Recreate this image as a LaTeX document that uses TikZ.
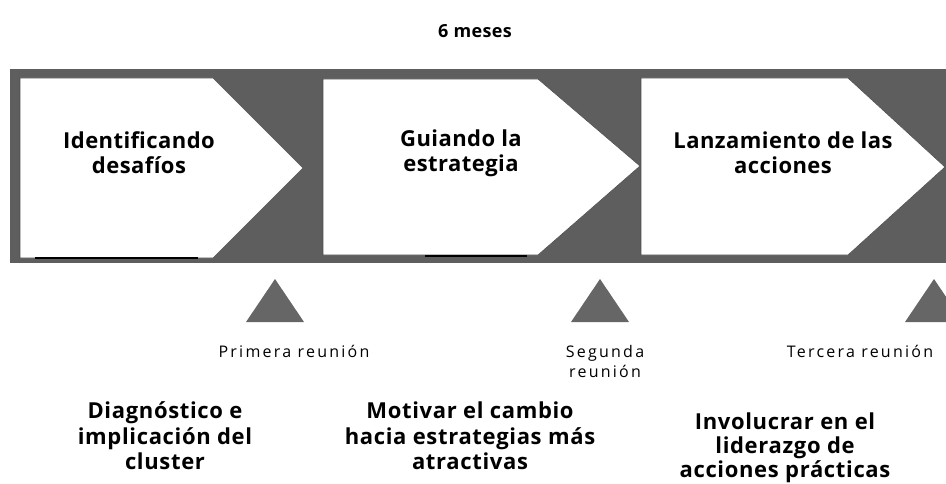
\documentclass[tikz,border=0pt]{standalone}
\usepackage{fontspec}
\setmainfont{Open Sans}
\begin{document}
\begin{tikzpicture}[x=1pt,y=-1pt,
  band/.style={fill=bandgray,draw=none},
  chev/.style={fill=white,draw=black!70,line width=0.6pt},
  phase/.style={font=\bfseries\fontsize{22}{25}\selectfont\addfontfeatures{LetterSpace=2},align=center,text=black},
  meet/.style={fill=trigray,draw=none},
  mlabel/.style={font=\fontsize{16}{20}\selectfont\addfontfeatures{LetterSpace=14},align=center},
  goal/.style={font=\bfseries\fontsize{22}{25.5}\selectfont\addfontfeatures{LetterSpace=3},align=center}]
\definecolor{bandgray}{HTML}{5E5E5E}
\definecolor{trigray}{HTML}{666666}
\useasboundingbox (0,0) rectangle (946,484);
\node[font=\bfseries\fontsize{18}{20}\selectfont\addfontfeatures{LetterSpace=2}] (title) at (475,31) {6 meses};
\fill[band] (10,69) rectangle (946,263);
% chevrons
\draw[chev] (20,78) -- (213,78) -- (303,168) -- (213,258) -- (20,258) -- cycle;
\draw[chev] (323,79) -- (538,79) -- (640,166) -- (538,255) -- (323,255) -- cycle;
\draw[chev] (641,78) -- (848,78) -- (945,167) -- (848,255) -- (641,255) -- cycle;
\draw[line width=2.5pt] (35,258) -- (198,258);
\draw[line width=2.5pt] (425,256) -- (527,256);
\node[phase] (p1) at (139,153) {Identificando\\desafíos};
\node[phase] (p2) at (461,153) {Guiando la\\estrategia};
\node[phase] (p3) at (783,153) {Lanzamiento de las\\acciones};
% meeting triangles
\fill[meet] (246,322) -- (275,279) -- (304,322) -- cycle;
\fill[meet] (571,322) -- (600,279) -- (629,322) -- cycle;
\fill[meet] (905,322) -- (934,279) -- (963,322) -- cycle;
\node[mlabel] (m1) at (294,351) {Primera reunión};
\node[mlabel] (m2) at (605,361) {Segunda\\reunión};
\node[mlabel] (m3) at (860,351) {Tercera reunión};
% goals
\node[goal] (g1) at (165,436) {Diagnóstico e\\implicación del\\cluster};
\node[goal] (g2) at (470,436) {Motivar el cambio\\hacia estrategias más\\atractivas};
\node[goal,font=\bfseries\fontsize{22}{24}\selectfont\addfontfeatures{LetterSpace=3}] (g3) at (785,448) {Involucrar en el\\liderazgo de\\acciones prácticas};
\end{tikzpicture}
\end{document}
